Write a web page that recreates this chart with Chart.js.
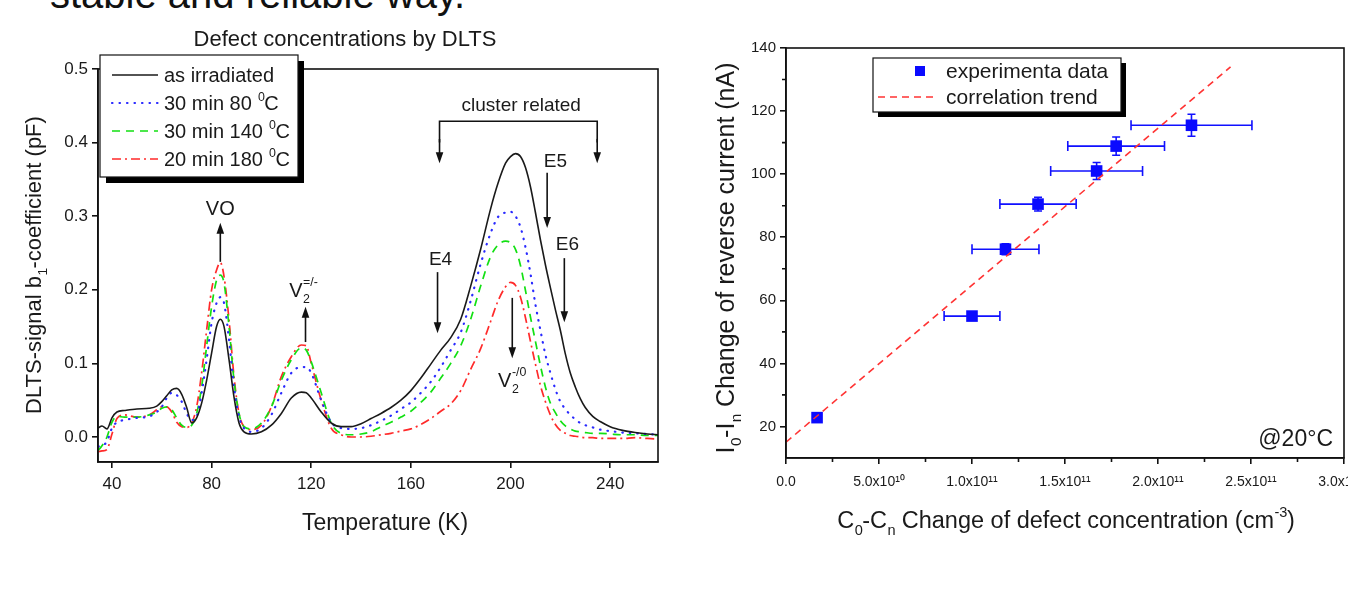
<!DOCTYPE html>
<html><head><meta charset="utf-8">
<script src="https://cdn.jsdelivr.net/npm/chart.js@4.4.0/dist/chart.umd.min.js"></script>
<style>
html,body{margin:0;padding:0;background:#fff;width:1348px;height:601px;overflow:hidden;position:relative;}
#head{position:absolute;left:50px;top:-26px;font:40px 'Liberation Sans',Arial,sans-serif;line-height:40px;color:#111;white-space:nowrap;}
#c1{position:absolute;left:0;top:0;}
#c2{position:absolute;left:690px;top:0;}
</style></head><body>
<div id="head">stable and reliable way.</div>
<canvas id="c1" width="690" height="601"></canvas>
<canvas id="c2" width="700" height="601"></canvas>
<script>
// ---------- Left chart data (DLTS spectra) ----------
const temperature = [34.5,36,38,40,42,45,50,55,58,60,62,64,66,68,70,72,74,76,78,80,82,83.5,85,87,89,91,93,96,100,104,108,112,116,118,120,124,128,132,136,140,144,148,152,156,160,164,168,172,176,180,184,188,192,195,198,200,202,204,206,208,210,212,214,216,218,220,222,224,226,228,230,233,236,240,245,250,255,259.5];
const asIrradiated = [0.012,0.015,0.011,0.026,0.034,0.036,0.038,0.039,0.042,0.048,
 0.056,0.064,0.066,0.058,0.040,0.019,0.026,0.046,0.077,0.114,
 0.150,0.160,0.150,0.105,0.054,0.019,0.007,0.004,0.007,0.016,
 0.032,0.053,0.061,0.060,0.053,0.034,0.019,0.014,0.014,0.018,
 0.025,0.032,0.040,0.050,0.063,0.080,0.099,0.118,0.135,0.160,
 0.205,0.255,0.310,0.345,0.372,0.381,0.385,0.381,0.366,0.340,
 0.305,0.268,0.234,0.203,0.173,0.145,0.113,0.087,0.068,0.052,
 0.040,0.028,0.021,0.014,0.009,0.006,0.004,0.003];
const anneal80 = [-0.013,-0.012,-0.006,0.012,0.020,0.023,0.026,0.028,0.034,0.041,
 0.053,0.060,0.057,0.048,0.032,0.023,0.028,0.060,0.105,0.155,
 0.182,0.190,0.182,0.132,0.068,0.028,0.012,0.007,0.012,0.030,
 0.060,0.087,0.095,0.095,0.087,0.050,0.020,0.012,0.011,0.012,
 0.016,0.022,0.029,0.038,0.047,0.060,0.075,0.095,0.118,0.142,
 0.185,0.235,0.277,0.299,0.305,0.306,0.300,0.285,0.258,0.222,
 0.180,0.145,0.112,0.087,0.065,0.048,0.038,0.030,0.024,0.019,
 0.016,0.013,0.010,0.008,0.006,0.005,0.004,0.003];
const anneal140 = [-0.018,-0.012,0.000,0.020,0.028,0.027,0.027,0.030,0.034,0.039,
 0.041,0.037,0.026,0.016,0.013,0.016,0.032,0.068,0.123,0.177,
 0.213,0.220,0.209,0.150,0.077,0.032,0.014,0.011,0.019,0.041,
 0.077,0.105,0.121,0.118,0.102,0.060,0.019,0.005,0.003,0.004,
 0.007,0.014,0.020,0.027,0.035,0.047,0.061,0.080,0.100,0.124,
 0.160,0.205,0.245,0.261,0.266,0.264,0.255,0.233,0.199,0.163,
 0.130,0.097,0.068,0.046,0.033,0.022,0.015,0.011,0.008,0.007,
 0.006,0.005,0.005,0.004,0.003,0.003,0.002,0.002];
const anneal180 = [-0.020,-0.019,-0.017,0.004,0.025,0.030,0.027,0.030,0.037,0.041,
 0.041,0.034,0.020,0.014,0.013,0.019,0.041,0.087,0.145,0.200,
 0.227,0.237,0.218,0.159,0.082,0.032,0.014,0.010,0.016,0.041,
 0.082,0.109,0.125,0.124,0.100,0.050,0.012,0.003,0.000,0.000,
 0.001,0.003,0.005,0.008,0.011,0.017,0.025,0.035,0.045,0.063,
 0.092,0.120,0.157,0.185,0.204,0.210,0.206,0.190,0.162,0.130,
 0.099,0.070,0.048,0.030,0.017,0.009,0.005,0.002,0.001,0.000,
 -0.001,-0.001,-0.002,-0.002,-0.002,-0.001,-0.002,-0.003];
const leftXTicks = [40,80,120,160,200,240];
const leftYTicks = [0.0,0.1,0.2,0.3,0.4,0.5];

// ---------- Right chart data (current vs defect concentration) ----------
const defectConc   = [1.67e10, 1.00e11, 1.18e11, 1.355e11, 1.67e11, 1.775e11, 2.18e11];
const currentChange= [22.8, 55.0, 76.2, 90.5, 101.0, 108.9, 115.5];
const concErr      = [0, 1.5e10, 1.8e10, 2.05e10, 2.47e10, 2.6e10, 3.25e10];
const currentErr   = [0.5, 0.8, 1.7, 2.2, 2.7, 2.9, 3.5];
const trendX = [0, 2.39e11];
const trendY = [15, 134];
const rightXTicks = [0, 5e10, 1e11, 1.5e11, 2e11, 2.5e11, 3e11];
const rightXTickLabels = ['0.0','5.0x10¹⁰','1.0x10¹¹','1.5x10¹¹','2.0x10¹¹','2.5x10¹¹','3.0x10¹¹'];
const rightXMinor = [2.5e10, 7.5e10, 1.25e11, 1.75e11, 2.25e11, 2.75e11];
const rightYTicks = [20,40,60,80,100,120,140];
const rightYMinor = [30,50,70,90,110,130];

const FONT = "'Liberation Sans', Arial, Helvetica, sans-serif";
Chart.defaults.font.family = FONT;
Chart.defaults.color = '#1a1a1a';

function drawRich(ctx, parts, x, y, size, align, color){
  const small = size*0.62;
  const segs = parts.map(p=>{
    const kind = p[1]||'n';
    if(kind==='ss'){ ctx.font = small+'px '+FONT; return {kind, p, w: Math.max(ctx.measureText(p[0]).width, ctx.measureText(p[2]).width)}; }
    ctx.font = (kind==='n'?size:small)+'px '+FONT;
    return {kind, p, w: ctx.measureText(p[0]).width};
  });
  const total = segs.reduce((a,s)=>a+s.w,0);
  let cx = align==='center' ? x-total/2 : (align==='right' ? x-total : x);
  ctx.fillStyle = color||'#1a1a1a'; ctx.textAlign='left'; ctx.textBaseline='alphabetic';
  for(const s of segs){
    if(s.kind==='n'){ ctx.font=size+'px '+FONT; ctx.fillText(s.p[0],cx,y); }
    else if(s.kind==='sub'){ ctx.font=small+'px '+FONT; ctx.fillText(s.p[0],cx+0.5,y+size*0.28); }
    else if(s.kind==='sup'){ ctx.font=small+'px '+FONT; ctx.fillText(s.p[0],cx+0.5,y-size*0.45); }
    else { ctx.font=small+'px '+FONT; ctx.fillText(s.p[0],cx+0.5,y+size*0.3); ctx.fillText(s.p[2],cx+0.5,y-size*0.55); }
    cx += s.w;
  }
  return total;
}
function vArrow(ctx, x, yTail, yHead){
  const dir = yHead < yTail ? -1 : 1;
  ctx.save();
  ctx.strokeStyle='#111'; ctx.fillStyle='#111'; ctx.lineWidth=1.6; ctx.setLineDash([]);
  ctx.beginPath(); ctx.moveTo(x,yTail); ctx.lineTo(x,yHead-dir*8); ctx.stroke();
  ctx.beginPath(); ctx.moveTo(x,yHead); ctx.lineTo(x-3.8,yHead-dir*11); ctx.lineTo(x+3.8,yHead-dir*11); ctx.closePath(); ctx.fill();
  ctx.restore();
}

const styles = [
  {color:'#1a1a1a', width:1.6, dash:[], cap:'butt'},
  {color:'#2a2aff', width:2.2, dash:[0.5,7], cap:'round'},
  {color:'#12e012', width:1.7, dash:[8,6], cap:'butt'},
  {color:'#ff2a2a', width:1.7, dash:[9,4,2,4], cap:'butt'}
];
const leftSeries = [asIrradiated, anneal80, anneal140, anneal180];
const leftNames = ['as irradiated','30 min 80 °C','30 min 140 °C','20 min 180 °C'];

const leftDecor = {
  id:'leftDecor',
  afterDraw(chart){
    const ctx=chart.ctx, a=chart.chartArea, xs=chart.scales.x, ys=chart.scales.y;
    const X=v=>xs.getPixelForValue(v), Y=v=>ys.getPixelForValue(v);
    ctx.save();
    ctx.strokeStyle='#111'; ctx.lineWidth=1.6; ctx.setLineDash([]);
    ctx.strokeRect(a.left,a.top,a.right-a.left,a.bottom-a.top);
    drawRich(ctx,[['Defect concentrations by DLTS']],345,46,22,'center');
    drawRich(ctx,[['Temperature (K)']],385,530,23,'center');
    ctx.save(); ctx.translate(41,265); ctx.rotate(-Math.PI/2);
    drawRich(ctx,[['DLTS-signal b'],['1','sub'],['-coefficient (pF)']],0,0,22,'center');
    ctx.restore();
    // annotations
    drawRich(ctx,[['VO']],X(83.5),Y(0.311)+7,20,'center');
    vArrow(ctx,X(83.5),Y(0.238),Y(0.291));
    drawRich(ctx,[['V'],['2','ss','=/-']],X(116.8),Y(0.200)+7,20,'center');
    vArrow(ctx,X(117.7),Y(0.129),Y(0.177));
    drawRich(ctx,[['cluster related']],X(204.3),Y(0.452)+7,19,'center');
    ctx.strokeStyle='#111'; ctx.lineWidth=1.6;
    ctx.beginPath(); ctx.moveTo(X(171.5),Y(0.400)); ctx.lineTo(X(171.5),Y(0.429)); ctx.lineTo(X(234.8),Y(0.429)); ctx.lineTo(X(234.8),Y(0.400)); ctx.stroke();
    vArrow(ctx,X(171.5),Y(0.405),Y(0.372));
    vArrow(ctx,X(234.8),Y(0.405),Y(0.372));
    drawRich(ctx,[['E5']],X(218.0),Y(0.376)+7,19,'center');
    vArrow(ctx,X(214.7),Y(0.359),Y(0.284));
    drawRich(ctx,[['E6']],X(222.8),Y(0.264)+7,19,'center');
    vArrow(ctx,X(221.6),Y(0.243),Y(0.156));
    drawRich(ctx,[['E4']],X(171.9),Y(0.243)+7,19,'center');
    vArrow(ctx,X(170.7),Y(0.224),Y(0.141));
    drawRich(ctx,[['V'],['2','ss','-/0']],X(200.6),Y(0.077)+7,20,'center');
    vArrow(ctx,X(200.7),Y(0.189),Y(0.107));
    // legend
    ctx.setLineDash([]);
    ctx.fillStyle='#000'; ctx.fillRect(106,61,198,122);
    ctx.fillStyle='#fff'; ctx.fillRect(100,55,198,122);
    ctx.strokeStyle='#111'; ctx.lineWidth=1.2; ctx.strokeRect(100,55,198,122);
    const rows=[75,103,131,159];
    const parts=[[['as irradiated']],[['30 min 80 '],['0','sup'],['C']],[['30 min 140 '],['0','sup'],['C']],[['20 min 180 '],['0','sup'],['C']]];
    rows.forEach((ry,i)=>{
      const s=styles[i];
      ctx.save(); ctx.strokeStyle=s.color; ctx.lineWidth=s.width; ctx.setLineDash(s.dash); ctx.lineCap=s.cap;
      ctx.beginPath(); ctx.moveTo(112,ry); ctx.lineTo(158,ry); ctx.stroke(); ctx.restore();
      drawRich(ctx,parts[i],164,ry+7,20,'left');
    });
    ctx.restore();
  }
};

new Chart(document.getElementById('c1'), {
  type:'line',
  data:{ datasets: leftSeries.map((arr,i)=>({
    label:leftNames[i],
    data: temperature.map((t,j)=>({x:t,y:arr[j]})),
    borderColor:styles[i].color, borderWidth:styles[i].width, borderDash:styles[i].dash, borderCapStyle:styles[i].cap,
    pointRadius:0, fill:false, cubicInterpolationMode:'monotone'
  }))},
  options:{
    responsive:false, animation:false, events:[],
    layout:{padding:{top:69,right:32,left:0,bottom:0}},
    plugins:{legend:{display:false},tooltip:{enabled:false},title:{display:false}},
    scales:{
      x:{type:'linear',min:34.4,max:259.2,
         afterBuildTicks:s=>{s.ticks=leftXTicks.map(v=>({value:v}));},
         afterFit:s=>{s.height=139;},
         ticks:{font:{size:17},color:'#1a1a1a',padding:6,maxRotation:0,autoSkip:false,callback:v=>String(v)},
         grid:{drawOnChartArea:false,drawTicks:true,tickLength:6,tickColor:'#111',tickWidth:1.6,lineWidth:1.6},
         border:{display:true,color:'#111',width:1.6}},
      y:{type:'linear',min:-0.034,max:0.5,
         afterBuildTicks:s=>{s.ticks=leftYTicks.map(v=>({value:v}));},
         afterFit:s=>{s.width=98;},
         ticks:{font:{size:17},color:'#1a1a1a',padding:4,autoSkip:false,callback:v=>v.toFixed(1)},
         grid:{drawOnChartArea:false,drawTicks:true,tickLength:6,tickColor:'#111',tickWidth:1.6,lineWidth:1.6},
         border:{display:true,color:'#111',width:1.6}}
    }
  },
  plugins:[leftDecor]
});

const rightDecor = {
  id:'rightDecor',
  beforeDatasetsDraw(chart){
    const ctx=chart.ctx, xs=chart.scales.x, ys=chart.scales.y;
    const X=v=>xs.getPixelForValue(v), Y=v=>ys.getPixelForValue(v);
    ctx.save(); ctx.strokeStyle='#1010ff'; ctx.lineWidth=1.6; ctx.setLineDash([]);
    defectConc.forEach((c,i)=>{
      const py=Y(currentChange[i]), px=X(c);
      if(concErr[i]>0){
        const l=X(c-concErr[i]), r=X(c+concErr[i]);
        ctx.beginPath(); ctx.moveTo(l,py); ctx.lineTo(r,py);
        ctx.moveTo(l,py-5); ctx.lineTo(l,py+5); ctx.moveTo(r,py-5); ctx.lineTo(r,py+5); ctx.stroke();
      }
      if(currentErr[i]>0){
        const t=Y(currentChange[i]+currentErr[i]), b=Y(currentChange[i]-currentErr[i]);
        ctx.beginPath(); ctx.moveTo(px,t); ctx.lineTo(px,b);
        ctx.moveTo(px-4,t); ctx.lineTo(px+4,t); ctx.moveTo(px-4,b); ctx.lineTo(px+4,b); ctx.stroke();
      }
    });
    ctx.restore();
  },
  afterDraw(chart){
    const ctx=chart.ctx, a=chart.chartArea, xs=chart.scales.x, ys=chart.scales.y;
    ctx.save();
    ctx.strokeStyle='#111'; ctx.lineWidth=1.6; ctx.setLineDash([]);
    ctx.strokeRect(a.left,a.top,a.right-a.left,a.bottom-a.top);
    ctx.beginPath();
    rightYMinor.forEach(v=>{const py=ys.getPixelForValue(v); ctx.moveTo(a.left-4,py); ctx.lineTo(a.left,py);});
    rightXMinor.forEach(v=>{const px=xs.getPixelForValue(v); ctx.moveTo(px,a.bottom); ctx.lineTo(px,a.bottom+4);});
    ctx.stroke();
    drawRich(ctx,[['C'],['0','sub'],['-C'],['n','sub'],[' Change of defect concentration (cm'],['-3','sup'],[')']],376,528,23.5,'center');
    ctx.save(); ctx.translate(44,258); ctx.rotate(-Math.PI/2);
    drawRich(ctx,[['I'],['0','sub'],['-I'],['n','sub'],[' Change of reverse current (nA)']],0,0,25,'center');
    ctx.restore();
    drawRich(ctx,[['@20°C']],643,446,23,'right');
    // legend
    ctx.fillStyle='#000'; ctx.fillRect(188,63,248,54);
    ctx.fillStyle='#fff'; ctx.fillRect(183,58,248,54);
    ctx.strokeStyle='#111'; ctx.lineWidth=1.2; ctx.strokeRect(183,58,248,54);
    ctx.fillStyle='#0a0aff'; ctx.fillRect(225,66,10,10);
    ctx.strokeStyle='#ff3333'; ctx.lineWidth=1.6; ctx.setLineDash([7,5]);
    ctx.beginPath(); ctx.moveTo(188,97); ctx.lineTo(246,97); ctx.stroke(); ctx.setLineDash([]);
    drawRich(ctx,[['experimenta data']],256,78,21,'left');
    drawRich(ctx,[['correlation trend']],256,104,21,'left');
    ctx.restore();
  }
};

new Chart(document.getElementById('c2'), {
  type:'scatter',
  data:{datasets:[
    {label:'correlation trend', data: trendX.map((x,i)=>({x, y:trendY[i]})), showLine:true,
     borderColor:'#ff3333', borderWidth:1.6, borderDash:[7,5], pointRadius:0, fill:false},
    {label:'experimenta data', data: defectConc.map((x,i)=>({x, y:currentChange[i]})), showLine:false,
     pointStyle:'rect', pointRadius:8.2, backgroundColor:'#0a0aff', borderColor:'#0a0aff', borderWidth:0}
  ]},
  options:{
    responsive:false, animation:false, events:[],
    layout:{padding:{top:48,right:46,left:0,bottom:0}},
    plugins:{legend:{display:false},tooltip:{enabled:false}},
    scales:{
      x:{type:'linear',min:0,max:3e11,
         afterBuildTicks:s=>{s.ticks=rightXTicks.map(v=>({value:v}));},
         afterFit:s=>{s.height=143;},
         ticks:{font:{size:14},color:'#1a1a1a',padding:10,maxRotation:0,autoSkip:false,callback:(v,i)=>rightXTickLabels[i]},
         grid:{drawOnChartArea:false,drawTicks:true,tickLength:6,tickColor:'#111',tickWidth:1.6,lineWidth:1.6},
         border:{display:true,color:'#111',width:1.6}},
      y:{type:'linear',min:10,max:140,
         afterBuildTicks:s=>{s.ticks=rightYTicks.map(v=>({value:v}));},
         afterFit:s=>{s.width=96;},
         ticks:{font:{size:15},color:'#1a1a1a',padding:4,autoSkip:false,callback:v=>String(v)},
         grid:{drawOnChartArea:false,drawTicks:true,tickLength:6,tickColor:'#111',tickWidth:1.6,lineWidth:1.6},
         border:{display:true,color:'#111',width:1.6}}
    }
  },
  plugins:[rightDecor]
});
</script></body></html>
